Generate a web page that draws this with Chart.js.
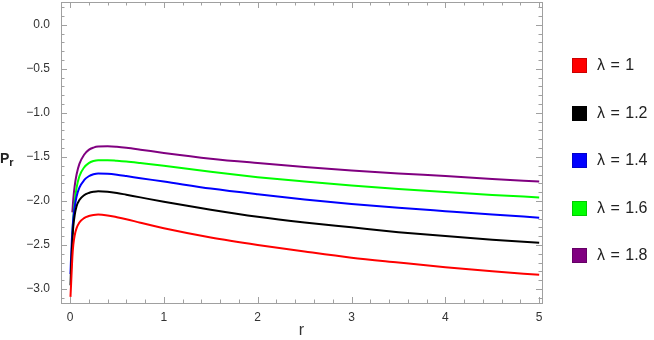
<!DOCTYPE html>
<html>
<head>
<meta charset="utf-8">
<script src="https://cdn.jsdelivr.net/npm/chart.js@4.4.1/dist/chart.umd.min.js"></script>
<style>
  body { margin: 0; background: #fff; }
  #wrap { position: relative; width: 654px; height: 340px; font-family: "Liberation Sans", Arial, sans-serif; }
  #pr { position: absolute; left: 0px; top: 150px; font-size: 14px; font-weight: bold; color: #222; }
  #pr sub { font-size: 11px; font-weight: bold; vertical-align: -3px; }
  .leg { position: absolute; left: 572px; height: 16px; font-size: 16px; color: #222; white-space: nowrap; }
  .leg span.box { position: absolute; left: 0; top: 0; width: 15px; height: 15px; border: 1px solid rgba(0,0,0,0.2); box-sizing: border-box; }
  .leg span.txt { position: absolute; left: 25px; top: -2px; word-spacing: 1px; }
</style>
</head>
<body>
<div id="wrap">
  <canvas id="chart" width="654" height="340"></canvas>
  <div id="pr">P<sub>r</sub></div>
  <div id="legend"></div>
</div>
<script>
// r grid shared by all curves
const rVals = [0.005, 0.01, 0.02, 0.025, 0.035, 0.05, 0.07, 0.1, 0.15, 0.2, 0.25, 0.3, 0.4, 0.5, 0.6, 0.75, 1, 1.5, 2, 2.5, 3, 3.5, 4, 4.5, 5];

const lam1  = [-3.09, -2.98, -2.75, -2.64, -2.50, -2.39, -2.31, -2.245, -2.195, -2.172, -2.16, -2.155, -2.165, -2.185, -2.208, -2.248, -2.31, -2.415, -2.50, -2.575, -2.645, -2.70, -2.753, -2.80, -2.84];
const lam12 = [-2.96, -2.80, -2.55, -2.45, -2.29, -2.16, -2.06, -1.99, -1.935, -1.91, -1.897, -1.89, -1.895, -1.91, -1.93, -1.96, -2.01, -2.10, -2.18, -2.245, -2.30, -2.355, -2.40, -2.44, -2.475];
const lam14 = [-2.83, -2.68, -2.44, -2.34, -2.20, -2.07, -1.95, -1.85, -1.765, -1.72, -1.698, -1.688, -1.692, -1.703, -1.718, -1.742, -1.78, -1.86, -1.925, -1.983, -2.034, -2.078, -2.117, -2.155, -2.19];
const lam16 = [null, null, null, -2.38, -2.20, -2.01, -1.85, -1.72, -1.62, -1.57, -1.547, -1.537, -1.537, -1.544, -1.553, -1.57, -1.60, -1.67, -1.73, -1.78, -1.826, -1.865, -1.90, -1.932, -1.96];
const lam18 = [null, null, null, -2.13, -1.98, -1.83, -1.70, -1.58, -1.475, -1.42, -1.395, -1.383, -1.38, -1.386, -1.397, -1.418, -1.455, -1.52, -1.57, -1.615, -1.655, -1.688, -1.718, -1.75, -1.78];

const seriesNames = ["λ = 1", "λ = 1.2", "λ = 1.4", "λ = 1.6", "λ = 1.8"];
const seriesColors = ["#ff0000", "#000000", "#0000ff", "#00ff00", "#800080"];
const seriesData = [lam1, lam12, lam14, lam16, lam18];

const xTicks = [0, 1, 2, 3, 4, 5];
const yTicks = [0, -0.5, -1, -1.5, -2, -2.5, -3];

const toPoints = (vals) => rVals.map((r, i) => ({ x: r, y: vals[i] })).filter(p => p.y !== null);

// frame with inward major/minor ticks, Mathematica style
const framePlugin = {
  id: "frame",
  beforeDatasetsDraw(chart) {
    const { ctx, chartArea: a, scales } = chart;
    const xs = scales.x, ys = scales.y;
    ctx.save();
    ctx.strokeStyle = "#a0a0a0";
    ctx.lineWidth = 1;
    ctx.strokeRect(Math.round(a.left) + 0.5, Math.round(a.top) + 0.5, Math.round(a.right - a.left), Math.round(a.bottom - a.top));
    ctx.beginPath();
    for (let k = 0; k <= 25; k++) {
      const px = Math.round(xs.getPixelForValue(k * 0.2)) + 0.5;
      const len = k % 5 === 0 ? 6 : 3.5;
      ctx.moveTo(px, a.bottom); ctx.lineTo(px, a.bottom - len);
      ctx.moveTo(px, a.top); ctx.lineTo(px, a.top + len);
    }
    for (let k = -31; k <= 2; k++) {
      const py = Math.round(ys.getPixelForValue(k * 0.1)) + 0.5;
      const len = k % 5 === 0 ? 6 : 3.5;
      ctx.moveTo(a.left, py); ctx.lineTo(a.left + len, py);
      ctx.moveTo(a.right, py); ctx.lineTo(a.right - len, py);
    }
    ctx.stroke();
    ctx.restore();
  }
};

const fmt = (v) => {
  const s = Math.abs(v).toFixed(1);
  return v < 0 ? "\u2212" + s : s;
};

new Chart(document.getElementById("chart"), {
  type: "scatter",
  data: {
    datasets: seriesData.map((vals, i) => ({
      label: seriesNames[i],
      data: toPoints(vals),
      showLine: true,
      borderColor: seriesColors[i],
      backgroundColor: seriesColors[i],
      borderWidth: 2,
      pointRadius: 0,
      cubicInterpolationMode: "monotone"
    }))
  },
  options: {
    responsive: false,
    animation: false,
    layout: { padding: { left: 0, right: 112, top: 2, bottom: 0 } },
    plugins: { legend: { display: false }, tooltip: { enabled: false } },
    scales: {
      x: {
        type: "linear",
        min: -0.096,
        max: 5.03,
        afterBuildTicks: (s) => { s.ticks = xTicks.map(v => ({ value: v })); },
        afterFit: (s) => { s.height = 37; s.paddingLeft = 0; s.paddingRight = 0; },
        grid: { display: false, drawTicks: false },
        border: { display: false },
        ticks: { color: "#333", font: { family: "Liberation Sans", size: 12 }, padding: 7, maxRotation: 0 },
        title: { display: true, text: "r", color: "#333", font: { family: "Liberation Sans", size: 16 }, padding: { top: 0, bottom: 0 } }
      },
      y: {
        min: -3.16,
        max: 0.26,
        afterBuildTicks: (s) => { s.ticks = yTicks.map(v => ({ value: v })); },
        afterFit: (s) => { s.width = 61; s.paddingTop = 0; s.paddingBottom = 0; },
        grid: { display: false, drawTicks: false },
        border: { display: false },
        ticks: { color: "#333", font: { family: "Liberation Sans", size: 12 }, padding: 11, callback: (v) => fmt(v) }
      }
    }
  },
  plugins: [framePlugin]
});

// legend
const legend = document.getElementById("legend");
seriesNames.forEach((name, i) => {
  const d = document.createElement("div");
  d.className = "leg";
  d.style.top = (58 + i * 47.5) + "px";
  d.innerHTML = '<span class="box" style="background:' + seriesColors[i] + '"></span><span class="txt">' + name + '</span>';
  legend.appendChild(d);
});
</script>
</body>
</html>
